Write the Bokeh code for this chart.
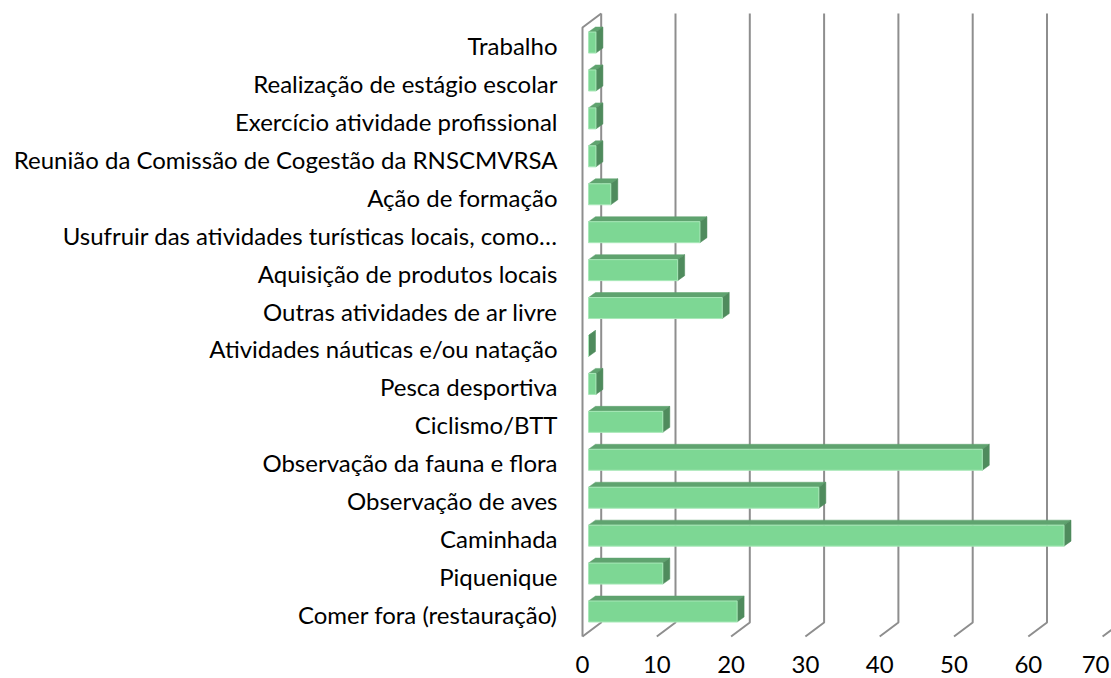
from bokeh.plotting import figure
from bokeh.models import Range1d, ColumnDataSource
from bokeh.core.properties import value
from bokeh.embed import file_html
from bokeh.resources import INLINE

# ---------------- data ----------------
categories = [
    "Comer fora (restauração)",
    "Piquenique",
    "Caminhada",
    "Observação de aves",
    "Observação da fauna e flora",
    "Ciclismo/BTT",
    "Pesca desportiva",
    "Atividades náuticas e/ou natação",
    "Outras atividades de ar livre",
    "Aquisição de produtos locais",
    "Usufruir das atividades turísticas locais, como…",
    "Ação de formação",
    "Reunião da Comissão de Cogestão da RNSCMVRSA",
    "Exercício atividade profissional",
    "Realização de estágio escolar",
    "Trabalho",
]
values = [20, 10, 64, 31, 53, 10, 1, 0, 18, 12, 15, 3, 1, 1, 1, 1]
x_ticks = [0, 10, 20, 30, 40, 50, 60, 70]
x_tick_labels = ["0", "10", "20", "30", "40", "50", "60", "70"]

# ---------------- geometry (pixels -> data units) ----------------
W, H = 1111, 678
SX = 7.43     # px per value unit
SY = 37.93    # px per category step
X0 = 582.0    # canvas x of value 0 on the front plane
Y0 = 611.0    # canvas y of the first category centre


def ux(px):
    return px / SX


def uy(px):
    return px / SY


FONT = "Lato"
FS = "24px"

p = figure(width=W, height=H,
           x_range=Range1d(-X0 / SX, (W - X0) / SX),
           y_range=Range1d((Y0 - H) / SY, Y0 / SY),
           output_backend="svg", toolbar_location=None,
           min_border=0, outline_line_color=None)
p.axis.visible = False
p.grid.visible = False
p.background_fill_color = "white"
p.border_fill_color = "white"

# walls / gridlines
DDX, DDY = 18.7, 14.0
y_floor = (Y0 - 636) / SY
y_back_bot = y_floor + uy(DDY)
y_back_top = (Y0 - 13) / SY
grid_xs, grid_ys = [], []
for v in x_ticks:
    grid_xs.append([v, v + ux(DDX), v + ux(DDX)])
    grid_ys.append([y_floor, y_back_bot, y_back_top])
# left wall
grid_xs.append([0, 0, ux(DDX)])
grid_ys.append([y_floor, y_back_top - uy(DDY), y_back_top])
p.multi_line(grid_xs, grid_ys, line_color="#8e8e8e", line_width=2)

# bars (3D)
BX0 = ux(6)
HH = uy(10.5)
BDX, BDY = ux(7), uy(5)
front_xs, front_ys, top_xs, top_ys, side_xs, side_ys = [], [], [], [], [], []
for i, v in enumerate(values):
    xe = BX0 + v
    front_xs.append([BX0, xe, xe, BX0])
    front_ys.append([i - HH, i - HH, i + HH, i + HH])
    top_xs.append([BX0, xe, xe + BDX, BX0 + BDX])
    top_ys.append([i + HH, i + HH, i + HH + BDY, i + HH + BDY])
    side_xs.append([xe, xe + BDX, xe + BDX, xe])
    side_ys.append([i - HH, i - HH + BDY, i + HH + BDY, i + HH])

p.patches(top_xs, top_ys, fill_color="#5fa36f", line_color="#5fa36f", line_width=0.5)
p.patches(side_xs, side_ys, fill_color="#4f8b5d", line_color="#4f8b5d", line_width=0.5)
p.patches(front_xs, front_ys, fill_color="#7dd794", line_color="#a8e8b8", line_width=1)

# category labels
lab_src = ColumnDataSource(dict(x=[ux(557 - X0)] * len(categories),
                                y=[i - uy(3) for i in range(len(categories))],
                                t=categories))
p.text(x="x", y="y", text="t", source=lab_src, text_align="right",
       text_baseline="middle", text_font=value(FONT), text_font_size=FS,
       text_color="black")

# x tick labels (last one nudged so it stays inside the canvas)
tick_offsets = [0] * (len(x_ticks) - 1) + [-7]
tick_src = ColumnDataSource(dict(x=x_ticks, y=[(Y0 - 664) / SY] * len(x_ticks),
                                 t=x_tick_labels, off=tick_offsets))
p.text(x="x", y="y", text="t", source=tick_src, text_align="center",
       text_baseline="middle", text_font=value(FONT), text_font_size=FS,
       text_color="black", x_offset="off")

open("out.html", "w").write(file_html(p, INLINE))
